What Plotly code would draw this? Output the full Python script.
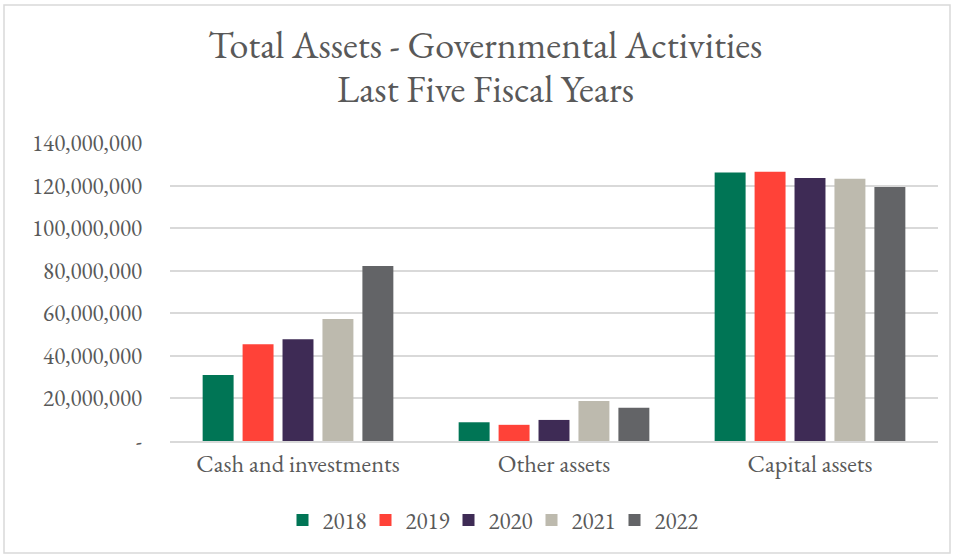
import plotly.graph_objects as go

categories = ["Cash and investments", "Other assets", "Capital assets"]
years = ["2018", "2019", "2020", "2021", "2022"]
values = {
    "2018": [31_000_000, 8_800_000, 126_100_000],
    "2019": [45_500_000, 7_600_000, 126_500_000],
    "2020": [47_800_000, 9_900_000, 123_600_000],
    "2021": [57_300_000, 18_800_000, 123_200_000],
    "2022": [82_200_000, 15_600_000, 119_300_000],
}
colors = {
    "2018": "#007555",
    "2019": "#FF4238",
    "2020": "#3E2B55",
    "2021": "#BDBAAE",
    "2022": "#636467",
}
tick_vals = [0, 20_000_000, 40_000_000, 60_000_000, 80_000_000, 100_000_000, 120_000_000, 140_000_000]
tick_text = ["-", "20,000,000", "40,000,000", "60,000,000", "80,000,000", "100,000,000", "120,000,000", "140,000,000"]
title_lines = ["Total Assets - Governmental Activities", "Last Five Fiscal Years"]

FONT = "Garamond, 'EB Garamond', 'Liberation Serif', 'DejaVu Serif', serif"
TXT = "#595959"

fig = go.Figure()
for y in years:
    fig.add_trace(go.Bar(name=y, x=categories, y=values[y], marker_color=colors[y],
                         marker_line_width=0))

PH = 298.0  # plot height px
def py(px):
    return (441 - px) / PH

fig.update_layout(
    width=956, height=557,
    paper_bgcolor="white", plot_bgcolor="white",
    margin=dict(l=170, r=18, t=143, b=116),
    barmode="group", bargap=0.22, bargroupgap=0.225,
    font=dict(family=FONT, color=TXT, size=21),
    showlegend=True,
    legend=dict(orientation="h", x=(490 - 170) / 768, xanchor="center", y=py(520), yanchor="middle",
                font=dict(family=FONT, size=23, color=TXT), itemwidth=30,
                entrywidth=38, entrywidthmode="pixels",
                traceorder="normal"),
    yaxis=dict(range=[0, 140_000_000], tickvals=tick_vals, ticktext=tick_text,
               showgrid=True, gridcolor="#D9D9D9", gridwidth=1.5,
               zeroline=False, showline=False, ticks="", ticklabelstandoff=27,
               tickfont=dict(family=FONT, size=23, color=TXT)),
    xaxis=dict(showline=True, linecolor="#D9D9D9", linewidth=1.5, ticks="",
               tickfont=dict(family=FONT, size=24.5, color=TXT)),
    annotations=[
        dict(text=title_lines[0], xref="paper", yref="paper", x=(485 - 170) / 768, y=py(45),
             xanchor="center", yanchor="middle", showarrow=False,
             font=dict(family=FONT, size=38, color=TXT)),
        dict(text=title_lines[1], xref="paper", yref="paper", x=(485 - 170) / 768, y=py(89),
             xanchor="center", yanchor="middle", showarrow=False,
             font=dict(family=FONT, size=38, color=TXT)),
    ],
    shapes=[dict(type="rect", xref="paper", yref="paper",
                 x0=-166 / 768, x1=(950 - 170) / 768, y0=py(553), y1=py(5),
                 line=dict(color="#D9D9D9", width=1.5), fillcolor="rgba(0,0,0,0)", layer="below")],
)

fig.write_html("out.html", config={"displayModeBar": False},
               post_script="document.body.style.margin='0';document.body.style.padding='0';")
